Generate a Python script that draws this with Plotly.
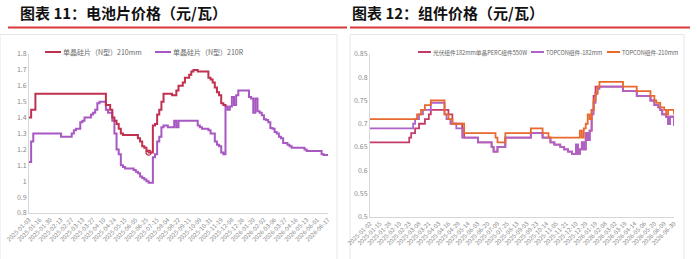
import plotly.graph_objects as go

W, H = 697, 259

# ---------------- Left chart data (电池片价格) ----------------
left_ticklabels = ["2025-01-03","2025-01-16","2025-01-30","2025-02-13","2025-02-27","2025-03-13",
                   "2025-03-27","2025-04-10","2025-04-24","2025-05-15","2025-06-05","2025-06-25",
                   "2025-07-15","2025-08-04","2025-08-22","2025-09-11","2025-10-09","2025-10-31",
                   "2025-11-19","2025-12-08","2025-12-26","2026-01-20","2026-02-02","2026-03-06",
                   "2026-03-27","2026-04-16","2026-05-13","2026-06-01","2026-06-17"]
left_names = ["单晶硅片（N型）210mm", "单晶硅片（N型）210R"]

red_210mm = [
    1.40, 1.45, 1.45, 1.55, 1.55, 1.55, 1.55, 1.55, 1.55, 1.55,
    1.55, 1.55, 1.55, 1.55, 1.55, 1.55, 1.55, 1.55, 1.55, 1.55,
    1.55, 1.55, 1.55, 1.55, 1.55, 1.55, 1.55, 1.55, 1.55, 1.55,
    1.55, 1.55, 1.55, 1.55, 1.55, 1.55, 1.48, 1.48, 1.45, 1.40,
    1.38, 1.36, 1.33, 1.30, 1.29, 1.29, 1.29, 1.29, 1.29, 1.29,
    1.29, 1.27, 1.25, 1.22, 1.21, 1.19, 1.18, 1.18, 1.35, 1.36,
    1.42, 1.45, 1.50, 1.55, 1.55, 1.55, 1.55, 1.54, 1.54, 1.57,
    1.60, 1.60, 1.62, 1.65, 1.65, 1.67, 1.69, 1.70, 1.70, 1.69,
    1.69, 1.69, 1.69, 1.69, 1.65, 1.64, 1.62, 1.59, 1.56, 1.54,
    1.49, 1.48, 1.47, None, None, None, None, None, None, None,
    None, None, None, None, None, None, None, None, None, None,
    None, None, None, None, None, None, None, None, None, None,
    None, None, None, None, None, None, None, None, None, None,
    None, None, None, None, None, None, None, None, None, None,
    None,
]
purple_210R = [
    1.12, 1.25, 1.30, 1.30, 1.30, 1.30, 1.30, 1.30, 1.30, 1.30,
    1.30, 1.30, 1.30, 1.30, 1.30, 1.28, 1.28, 1.28, 1.28, 1.28,
    1.30, 1.32, 1.33, 1.33, 1.37, 1.38, 1.40, 1.40, 1.40, 1.42,
    1.43, 1.45, 1.49, 1.50, 1.50, 1.50, 1.45, 1.43, 1.43, 1.38,
    1.30, 1.20, 1.17, 1.10, 1.09, 1.08, 1.08, 1.08, 1.08, 1.07,
    1.06, 1.05, 1.03, 1.02, 1.01, 1.00, 0.99, 0.99, 1.15, 1.17,
    1.25, 1.28, 1.34, 1.35, 1.35, 1.34, 1.34, 1.34, 1.38, 1.34,
    1.38, 1.38, 1.38, 1.38, 1.38, 1.38, 1.38, 1.38, 1.38, 1.35,
    1.34, 1.33, 1.33, 1.33, 1.32, 1.30, 1.30, 1.25, 1.23, 1.22,
    1.18, 1.17, 1.47, 1.45, 1.47, 1.53, 1.48, 1.54, 1.57, 1.57,
    1.57, 1.57, 1.57, 1.53, 1.52, 1.43, 1.52, 1.44, 1.43, 1.415,
    1.39, 1.385, 1.37, 1.335, 1.33, 1.31, 1.30, 1.28, 1.27, 1.24,
    1.24, 1.23, 1.22, 1.21, 1.21, 1.21, 1.21, 1.21, 1.21, 1.20,
    1.19, 1.19, 1.19, 1.19, 1.19, 1.19, 1.19, 1.17, 1.165, 1.165,
    1.165,
]
red_marker_index = 56

# ---------------- Right chart data (组件价格) ----------------
right_ticklabels = ["2025-01-02","2025-01-15","2025-01-28","2025-02-10","2025-02-23","2025-03-08",
                    "2025-03-21","2025-04-03","2025-04-16","2025-04-29","2025-05-14","2025-06-03",
                    "2025-06-20","2025-07-09","2025-07-25","2025-08-13","2025-09-03","2025-09-23",
                    "2025-10-14","2025-11-05","2025-11-21","2025-12-10","2025-12-29","2026-01-19",
                    "2026-02-08","2026-03-02","2026-03-19","2026-04-14","2026-05-06","2026-05-20",
                    "2026-06-09","2026-06-30"]
right_names = ["光伏组件182mm单晶PERC组件550W", "TOPCON组件-182mm", "TOPCON组件-210mm"]

perc_182 = [
    0.66, 0.66, 0.66, 0.66, 0.66, 0.66, 0.66, 0.66, 0.66, 0.66,
    0.66, 0.66, 0.66, 0.66, 0.66, 0.66, 0.66, 0.66, 0.66, 0.66,
    0.67, 0.68, 0.68, 0.69, 0.69, 0.70, 0.70, 0.70, 0.71, 0.71,
    0.72, 0.73, 0.73, 0.73, 0.73, 0.73, 0.73, 0.73, 0.73, 0.73,
    0.72, 0.72, 0.70, 0.70, 0.70, 0.70, 0.70, 0.69, 0.67, 0.67,
    0.67, 0.67, 0.67, 0.67, 0.67, 0.66, 0.66, 0.66, 0.66, 0.66,
    0.66, 0.66, 0.65, 0.64, 0.64, 0.65, 0.65, 0.65, 0.65, 0.67,
    0.67, 0.67, 0.67, 0.67, 0.67, 0.67, 0.67, 0.67, 0.67, 0.67,
    0.67, 0.67, 0.68, 0.68, 0.68, 0.68, 0.68, 0.68, 0.67, 0.67,
    0.67, 0.67, 0.66, 0.66, 0.655, 0.655, 0.655, 0.65, 0.65, 0.645,
    0.645, 0.64, 0.64, 0.635, 0.635, 0.655, 0.635, 0.645, 0.66, 0.645,
    0.68, 0.665, 0.685, 0.73, 0.76, 0.78, 0.78, 0.78, 0.78, 0.78,
    0.78, 0.78, 0.78, 0.78, 0.78, 0.78, 0.78, 0.78, 0.78, 0.77,
    0.77, 0.77, 0.77, 0.77, 0.77, 0.77, 0.76, 0.76, 0.76, 0.76,
    0.76, 0.76, 0.76, 0.75, 0.75, 0.74, 0.74, 0.735, 0.73, 0.72,
    0.72, 0.715, 0.70, 0.715, 0.715, 0.695,
]
topcon_182 = [
    0.69, 0.69, 0.69, 0.69, 0.69, 0.69, 0.69, 0.69, 0.69, 0.69,
    0.69, 0.69, 0.69, 0.69, 0.69, 0.69, 0.69, 0.69, 0.69, 0.69,
    0.69, 0.69, 0.70, 0.71, 0.71, 0.72, 0.72, 0.73, 0.73, 0.73,
    0.73, 0.745, 0.745, 0.745, 0.745, 0.745, 0.745, 0.745, 0.72, 0.71,
    0.71, 0.70, 0.70, 0.70, 0.69, 0.69, 0.69, 0.67, 0.67, 0.67,
    0.67, 0.67, 0.67, 0.67, 0.67, 0.66, 0.66, 0.66, 0.66, 0.66,
    0.66, 0.66, 0.65, 0.64, 0.64, 0.65, 0.65, 0.65, 0.65, 0.67,
    0.67, 0.67, 0.67, 0.67, 0.67, 0.67, 0.67, 0.67, 0.67, 0.67,
    0.67, 0.67, 0.68, 0.68, 0.68, 0.68, 0.68, 0.68, 0.67, 0.67,
    0.67, 0.67, 0.66, 0.66, 0.655, 0.655, 0.655, 0.65, 0.65, 0.645,
    0.645, 0.64, 0.64, 0.635, 0.635, 0.655, 0.635, 0.645, 0.66, 0.645,
    0.68, 0.665, 0.685, 0.72, 0.745, 0.765, 0.775, 0.78, 0.78, 0.78,
    0.78, 0.78, 0.78, 0.78, 0.78, 0.78, 0.78, 0.78, 0.78, 0.77,
    0.77, 0.77, 0.77, 0.77, 0.77, 0.77, 0.76, 0.76, 0.76, 0.76,
    0.76, 0.76, 0.76, 0.75, 0.75, 0.74, 0.74, 0.735, 0.73, 0.72,
    0.72, 0.715, 0.70, 0.715, 0.715, 0.695,
]
topcon_210 = [
    0.71, 0.71, 0.71, 0.71, 0.71, 0.71, 0.71, 0.71, 0.71, 0.71,
    0.71, 0.71, 0.71, 0.71, 0.71, 0.71, 0.71, 0.71, 0.71, 0.71,
    0.71, 0.71, 0.71, 0.71, 0.72, 0.72, 0.73, 0.73, 0.74, 0.74,
    0.74, 0.75, 0.75, 0.75, 0.75, 0.75, 0.75, 0.75, 0.72, 0.72,
    0.71, 0.71, 0.70, 0.70, 0.70, 0.70, 0.70, 0.70, 0.68, 0.68,
    0.68, 0.68, 0.68, 0.68, 0.68, 0.68, 0.68, 0.68, 0.68, 0.68,
    0.68, 0.68, 0.68, 0.68, 0.67, 0.66, 0.66, 0.66, 0.66, 0.68,
    0.68, 0.68, 0.68, 0.68, 0.68, 0.68, 0.68, 0.68, 0.68, 0.68,
    0.68, 0.68, 0.69, 0.69, 0.69, 0.69, 0.69, 0.69, 0.68, 0.68,
    0.68, 0.67, 0.67, 0.67, 0.67, 0.67, 0.67, 0.67, 0.67, 0.67,
    0.67, 0.67, 0.67, 0.67, 0.67, 0.67, 0.67, 0.685, 0.67, 0.69,
    0.70, 0.72, 0.71, 0.73, 0.75, 0.765, 0.78, 0.79, 0.79, 0.79,
    0.79, 0.79, 0.79, 0.79, 0.79, 0.79, 0.79, 0.79, 0.79, 0.78,
    0.78, 0.78, 0.78, 0.78, 0.78, 0.78, 0.77, 0.77, 0.77, 0.77,
    0.77, 0.77, 0.77, 0.76, 0.76, 0.75, 0.745, 0.745, 0.735, 0.735,
    0.73, 0.72, 0.73, 0.73, 0.73, 0.72,
]

# ---------------- styling ----------------
C_RED_L = "#C0304F"
C_PUR_L = "#A858C2"
C_RED_R = "#C43C68"
C_PUR_R = "#AE62C8"
C_ORA_R = "#E8692E"
AX = "#d6d6d6"
TICK = "#8a8a8a"
FONT = "Noto Sans CJK SC"


def px(x):
    return x / W


def py(y):
    return 1 - y / H


fig = go.Figure()

nL = len(red_210mm)
xL = list(range(nL))
nR = len(topcon_182)
xR = list(range(nR))

fig.add_trace(go.Scatter(x=xL, y=purple_210R, mode="lines", line=dict(color=C_PUR_L, width=2, shape="hv"),
                         name=left_names[1], showlegend=False, xaxis="x", yaxis="y"))
fig.add_trace(go.Scatter(x=xL, y=red_210mm, mode="lines", line=dict(color=C_RED_L, width=2, shape="hv"),
                         name=left_names[0], showlegend=False, xaxis="x", yaxis="y"))
fig.add_trace(go.Scatter(x=[xL[red_marker_index]], y=[red_210mm[red_marker_index]], mode="markers",
                         marker=dict(symbol="circle-open", size=5, color=C_RED_L, line=dict(width=1.3)),
                         showlegend=False, xaxis="x", yaxis="y", hoverinfo="skip"))

fig.add_trace(go.Scatter(x=xR, y=perc_182, mode="lines", line=dict(color=C_RED_R, width=1.8, shape="hv"),
                         name=right_names[0], showlegend=False, xaxis="x2", yaxis="y2"))
fig.add_trace(go.Scatter(x=xR, y=topcon_182, mode="lines", line=dict(color=C_PUR_R, width=1.8, shape="hv"),
                         name=right_names[1], showlegend=False, xaxis="x2", yaxis="y2"))
fig.add_trace(go.Scatter(x=xR, y=topcon_210, mode="lines", line=dict(color=C_ORA_R, width=1.8, shape="hv"),
                         name=right_names[2], showlegend=False, xaxis="x2", yaxis="y2"))

tickfont = dict(family=FONT, size=7, color=TICK)
xtickfont = dict(family=FONT, size=6, color=TICK)

fig.update_layout(
    width=W, height=H, margin=dict(l=0, r=0, t=0, b=0, autoexpand=False),
    paper_bgcolor="white", plot_bgcolor="white",
    font=dict(family=FONT),
    xaxis=dict(domain=[px(29), px(328)], range=[0, nL - 1], showgrid=False, zeroline=False,
               showline=True, linecolor=AX, linewidth=1, automargin=False,
               tickmode="array", tickvals=[i * 5 for i in range(len(left_ticklabels))],
               ticktext=left_ticklabels, tickangle=-45, tickfont=xtickfont, ticks="", anchor="y"),
    yaxis=dict(domain=[py(213), py(54)], range=[0.8, 1.8], dtick=0.1, showgrid=False, zeroline=False,
               showline=True, linecolor=AX, linewidth=1, automargin=False,
               tickfont=tickfont, ticks="", anchor="x"),
    xaxis2=dict(domain=[px(370), px(674)], range=[0, nR - 1], showgrid=False, zeroline=False,
                showline=True, linecolor=AX, linewidth=1, automargin=False,
                tickmode="array", tickvals=[i * 5 for i in range(len(right_ticklabels))],
                ticktext=right_ticklabels, tickangle=-45, tickfont=xtickfont, ticks="", anchor="y2"),
    yaxis2=dict(domain=[py(216.7), py(54)], range=[0.5, 0.85], dtick=0.05, showgrid=False, zeroline=False,
                showline=True, linecolor=AX, linewidth=1, automargin=False,
                tickfont=tickfont, ticks="", anchor="x2"),
)

shapes = []
# panel borders
shapes.append(dict(type="rect", xref="paper", yref="paper", x0=px(0), x1=px(337), y0=py(262), y1=py(34.5),
                   line=dict(color="#e6e6e6", width=1), fillcolor="rgba(0,0,0,0)", layer="below"))
shapes.append(dict(type="rect", xref="paper", yref="paper", x0=px(350), x1=px(684), y0=py(262), y1=py(34.5),
                   line=dict(color="#e6e6e6", width=1), fillcolor="rgba(0,0,0,0)", layer="below"))
# red title underlines
shapes.append(dict(type="line", xref="paper", yref="paper", x0=px(8), x1=px(347), y0=py(27.5), y1=py(27.5),
                   line=dict(color="#D8383A", width=2.2)))
shapes.append(dict(type="line", xref="paper", yref="paper", x0=px(350), x1=px(690), y0=py(27.5), y1=py(27.5),
                   line=dict(color="#D8383A", width=2.2)))

annotations = []
annotations.append(dict(text="<b>图表 11：电池片价格（元/瓦）</b>", xref="paper", yref="paper",
                        x=px(19), y=py(12.5), xanchor="left", yanchor="middle", showarrow=False, align="left",
                        width=300, borderpad=0,
                        font=dict(family=FONT, size=15, color="#111111")))
annotations.append(dict(text="<b>图表 12：组件价格（元/瓦）</b>", xref="paper", yref="paper",
                        x=px(351), y=py(12.5), xanchor="left", yanchor="middle", showarrow=False, align="left",
                        width=300, borderpad=0,
                        font=dict(family=FONT, size=15, color="#111111")))

legfont = dict(family=FONT, size=7, color="#666666")
# left legend
left_leg = [(45, 61, 62, C_RED_L, left_names[0]), (155, 171, 172, C_PUR_L, left_names[1])]
for x0, x1, tx, col, name in left_leg:
    shapes.append(dict(type="line", xref="paper", yref="paper", x0=px(x0), x1=px(x1), y0=py(52), y1=py(52),
                       line=dict(color=col, width=2)))
    annotations.append(dict(text=name, xref="paper", yref="paper", x=px(tx), y=py(52), xanchor="left",
                            yanchor="middle", showarrow=False, align="left", font=legfont, borderpad=0,
                            width=110))
# right legend
legfont_r = dict(family=FONT, size=5.7, color="#666666")
right_leg = [(418, 431, 432, C_RED_R, right_names[0]), (531, 544, 545, C_PUR_R, right_names[1]),
             (607, 620, 621, C_ORA_R, right_names[2])]
for x0, x1, tx, col, name in right_leg:
    shapes.append(dict(type="line", xref="paper", yref="paper", x0=px(x0), x1=px(x1), y0=py(52), y1=py(52),
                       line=dict(color=col, width=2)))
    annotations.append(dict(text=name, xref="paper", yref="paper", x=px(tx), y=py(52), xanchor="left",
                            yanchor="middle", showarrow=False, align="left", font=legfont_r, borderpad=0,
                            width=125))

fig.update_layout(shapes=shapes, annotations=annotations)
fig.write_html("out.html")
